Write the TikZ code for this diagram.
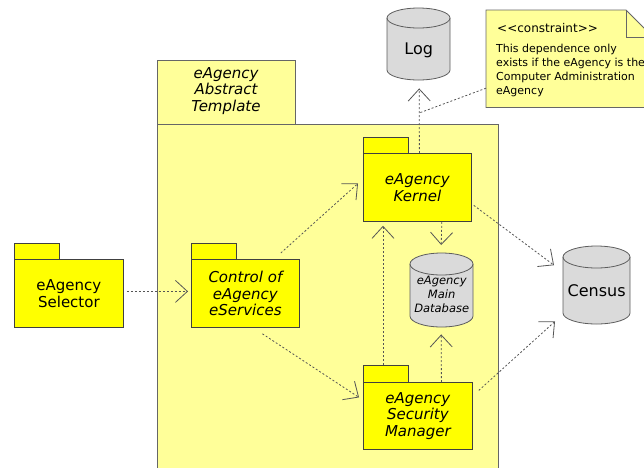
\documentclass[tikz,border=0pt]{standalone}
\usepackage{fontspec}
\setmainfont{DejaVu Sans}
\usetikzlibrary{arrows.meta}
\definecolor{pkgyellow}{HTML}{FFFF00}
\definecolor{tmplyellow}{HTML}{FFFF99}
\definecolor{notey}{HTML}{FFFF99}
\definecolor{cylgray}{HTML}{DADADA}
\definecolor{edgegray}{HTML}{404040}
\definecolor{depgray}{HTML}{555555}
\newcommand\pkgfont{\fontsize{15}{16.5}\selectfont\itshape}
\newcommand\dbcyl[5]{%
  \draw[cylline] (#1,#2+#5) -- (#1,#4-#5)
    arc[start angle=180,end angle=360,x radius={(#3-#1)/2*1pt},y radius={#5*1pt}]
    -- (#3,#2+#5)
    arc[start angle=0,end angle=180,x radius={(#3-#1)/2*1pt},y radius={#5*1pt}] -- cycle;
  \draw[cylline,fill=none] (#1,#2+#5)
    arc[start angle=180,end angle=360,x radius={(#3-#1)/2*1pt},y radius={#5*1pt}];
}
\begin{document}
\begin{tikzpicture}[x=1pt,y=-1pt,
  pkgbody/.style={draw=edgegray, fill=pkgyellow, line width=0.8pt, inner sep=0pt,
    anchor=north west, align=center, font=\pkgfont},
  pkgtab/.style={draw=edgegray, fill=pkgyellow, line width=0.8pt},
  tmplbox/.style={draw=edgegray!80, fill=tmplyellow, line width=0.8pt, inner sep=0pt, anchor=north west},
  cylline/.style={draw=edgegray!85, fill=cylgray, line width=0.8pt},
  cylnode/.style={inner sep=0pt, anchor=north west},
  dep/.style={draw=depgray, line width=0.8pt, dash pattern=on 2pt off 2pt,
    -{Straight Barb[length=12pt,width=22pt,line width=0.8pt]}},
  notelink/.style={draw=depgray, line width=0.8pt, dash pattern=on 2pt off 2pt},
  plain/.style={inner sep=0pt}]
\useasboundingbox (0,0) rectangle (644,467);
\clip (0,0) rectangle (644,467);

% template package
\node[tmplbox, minimum width=138pt, minimum height=64pt] (tmpltab) at (157,60) {};
\node[tmplbox, minimum width=341pt, minimum height=360pt] (tmpl) at (157,124) {};
\node[plain, font=\pkgfont, align=center] (tmpltext) at (226,91) {eAgency\\Abstract\\Template};

% packages
\draw[pkgtab] (14,259) rectangle ++(45,-16);
\node[pkgbody, minimum width=109pt, minimum height=68pt, font=\fontsize{15}{16.5}\selectfont] (sel) at (14,259) {eAgency\\Selector};

\draw[pkgtab] (191,259) rectangle ++(45,-16);
\node[pkgbody, minimum width=108pt, minimum height=68pt] (ctrl) at (191,259) {Control of\\eAgency\\eServices};

\draw[pkgtab] (363,153) rectangle ++(45,-16);
\node[pkgbody, minimum width=108pt, minimum height=68pt] (kernel) at (363,153) {eAgency\\Kernel};

\draw[pkgtab] (363,382) rectangle ++(45,-17);
\node[pkgbody, minimum width=109pt, minimum height=67pt] (sec) at (363,382) {eAgency\\Security\\Manager};

% databases
\dbcyl{387}{8}{450}{80}{10}
\node[cylnode, minimum width=63pt, minimum height=72pt] (log) at (387,8) {};
\node[plain, font=\fontsize{16}{18}\selectfont] (logtext) at ([shift={(0,6)}]log.center) {Log};

\dbcyl{410}{253}{473}{327}{11}
\node[cylnode, minimum width=63pt, minimum height=74pt] (db) at (410,253) {};
\node[plain, align=center, font=\fontsize{11.5}{14}\selectfont\itshape] (dbtext) at ([shift={(0,4)}]db.center) {eAgency\\Main\\Database};

\dbcyl{563}{246}{630}{324}{11}
\node[cylnode, minimum width=67pt, minimum height=78pt] (census) at (563,246) {};
\node[plain, font=\fontsize{16}{18}\selectfont] (censustext) at ([shift={(0,5)}]census.center) {Census};

% note
\node[inner sep=0pt, anchor=north west, minimum width=167pt, minimum height=97pt] (note) at (486,10) {};
\draw[draw=edgegray!80, fill=notey, line width=0.8pt]
  (note.north west) -- ++(140,0) -- ++(27,27) |- (note.south west) -- cycle;
\draw[draw=edgegray!80, line width=0.8pt] ([shift={(140,0)}]note.north west) -- ++(0,27) -- ++(27,0);
\node[plain, anchor=base west, font=\fontsize{12}{14}\selectfont] (notetitle) at (497,32) {<{}<constraint>{}>};
\node[plain, anchor=north west, align=left, font=\fontsize{11}{14.2}\selectfont] (notetext) at (496,43.5)
  {This dependence only\\exists if the eAgency is the\\Computer Administration\\eAgency};

% dependencies
\draw[dep] ([shift={(3,-2)}]sel.east) -- ([shift={(-3,-2)}]ctrl.west);
\draw[dep] ([shift={(-19,-6)}]ctrl.north east) -- ([shift={(-5,-4)}]kernel.west);
\draw[dep] ([shift={(17,6)}]ctrl.south) -- ([shift={(-4,-18.5)}]sec.west);
\draw[dep] ([shift={(2,0)}]kernel.north) -- coordinate[pos=0.62] (noteattach) ([shift={(0.5,8)}]log.south);
\draw[dep] ([shift={(-30,0)}]kernel.south east) -- ([shift={(-0.5,-8)}]db.north);
\draw[dep] ([shift={(20,-17)}]sec.north west) -- ([shift={(20,4)}]kernel.south west);
\draw[dep] ([shift={(23.5,0)}]sec.north) -- ([shift={(-0.5,7)}]db.south);
\draw[dep] ([shift={(2,18)}]kernel.east) -- ([shift={(-9,-20)}]census.west);
\draw[dep] ([shift={(6,-25.5)}]sec.east) -- ([shift={(-8,-3)}]census.south west);
\draw[notelink] ([shift={(0,29.5)}]note.west) -- (noteattach);
\end{tikzpicture}
\end{document}
